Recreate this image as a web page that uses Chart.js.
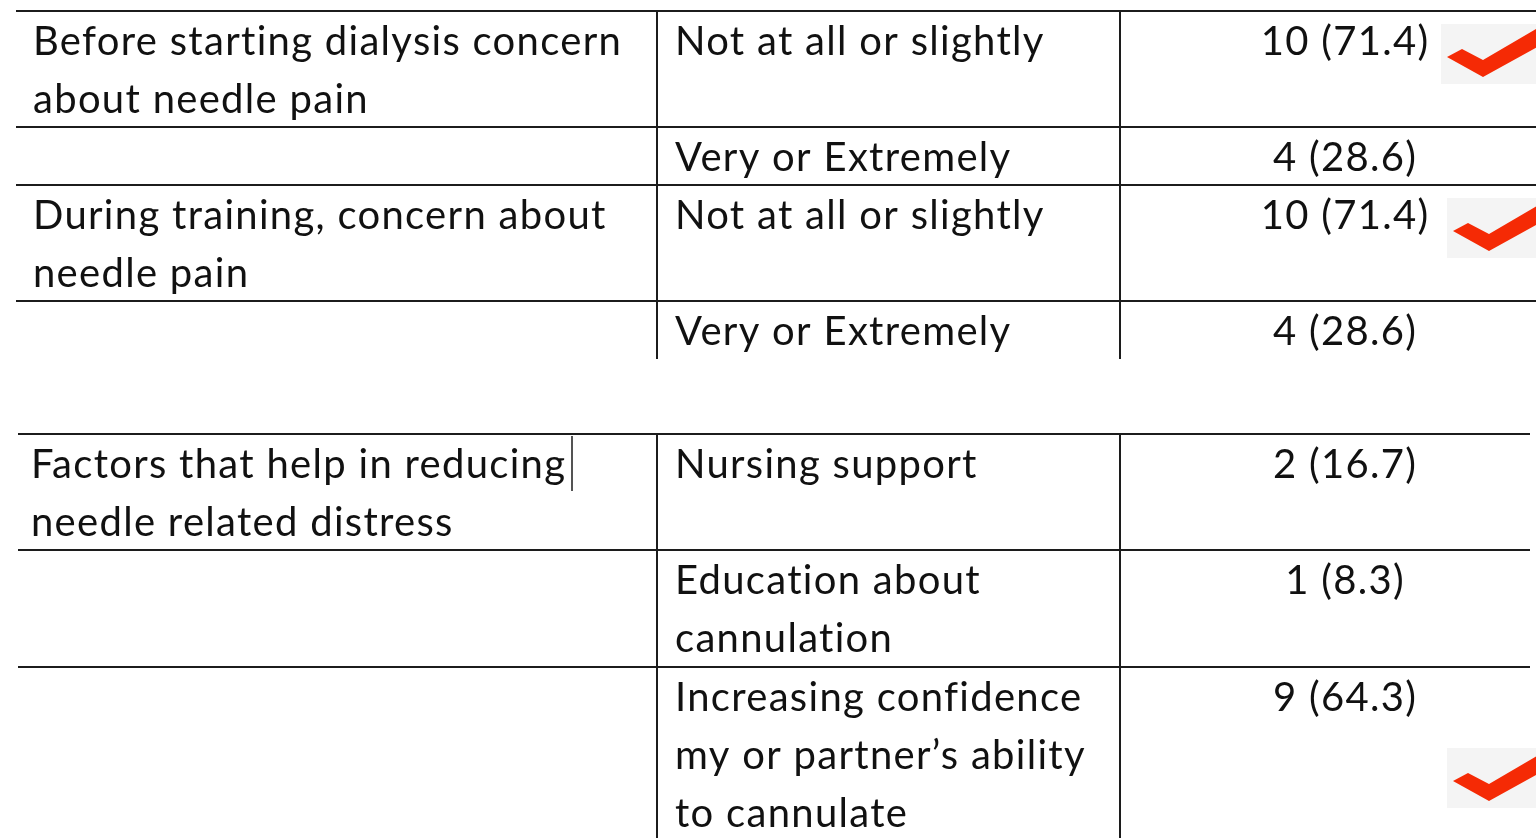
<!DOCTYPE html>
<html>
<head>
<meta charset="utf-8">
<script src="https://cdn.jsdelivr.net/npm/chart.js@4/dist/chart.umd.min.js"></script>
<style>
  html, body { margin: 0; padding: 0; background: #fff; overflow: hidden; }
  canvas { display: block; }
</style>
</head>
<body>
<canvas id="needleTable" width="1536" height="838"></canvas>
<script>
// table content
const questions = [
  'Before starting dialysis concern\nabout needle pain',
  '',
  'During training, concern about\nneedle pain',
  '',
  'Factors that help in reducing\nneedle related distress',
  '',
  ''
];
const responses = [
  'Not at all or slightly',
  'Very or Extremely',
  'Not at all or slightly',
  'Very or Extremely',
  'Nursing support',
  'Education about\ncannulation',
  'Increasing confidence\nmy or partner\u2019s ability\nto cannulate'
];
const counts = [10, 4, 10, 4, 2, 1, 9];
const percents = [71.4, 28.6, 71.4, 28.6, 16.7, 8.3, 64.3];
const ticked = [true, false, true, false, false, false, true];

// layout (chart units == pixels)
const rowTops = [11, 127, 185, 301, 434, 550, 667];
const tableOf = [0, 0, 0, 0, 1, 1, 1];
const tables = [
  { top: 11, bottom: 359, left: 16, right: 1536, textX: 33 },
  { top: 434, bottom: 838, left: 18, right: 1530, textX: 31 }
];
const colLines = [657, 1120];
const respX = 675;
const valueX = 1345;
const lineGap = 58;
const firstBase = 44;

const gridColor = '#1c1c1c';
const datasets = [];
rowTops.forEach((y, i) => {
  const t = tables[tableOf[i]];
  datasets.push({ data: [{ x: t.left, y: y }, { x: t.right, y: y }] });
});
tables.forEach(t => {
  colLines.forEach(x => {
    datasets.push({ data: [{ x: x, y: t.top }, { x: x, y: t.bottom }] });
  });
});
// text cursor left in the first cell of the second table
datasets.push({ data: [{ x: 572, y: 436 }, { x: 572, y: 491 }], borderWidth: 1.5 });
datasets.forEach(d => {
  d.showLine = true;
  d.pointRadius = 0;
  d.borderColor = gridColor;
  if (!d.borderWidth) d.borderWidth = 2;
});

const tableText = {
  id: 'tableText',
  afterDatasetsDraw(chart) {
    const ctx = chart.ctx;
    const xs = chart.scales.x, ys = chart.scales.y;
    ctx.save();
    ctx.font = '40px Lato, "Open Sans", sans-serif';
    ctx.letterSpacing = '1.3px';
    ctx.fillStyle = '#111';
    ctx.textBaseline = 'alphabetic';
    rowTops.forEach((top, i) => {
      const t = tables[tableOf[i]];
      ctx.textAlign = 'left';
      questions[i].split('\n').forEach((s, k) => {
        if (s) ctx.fillText(s, xs.getPixelForValue(t.textX), ys.getPixelForValue(top + firstBase + k * lineGap));
      });
      responses[i].split('\n').forEach((s, k) => {
        ctx.fillText(s, xs.getPixelForValue(respX), ys.getPixelForValue(top + firstBase + k * lineGap));
      });
      ctx.textAlign = 'center';
      ctx.fillText(counts[i] + ' (' + percents[i].toFixed(1) + ')',
        xs.getPixelForValue(valueX), ys.getPixelForValue(top + firstBase));
    });

    // red tick marks on grey boxes
    const boxes = [[1441, 24], [1447, 215], null, null, null, null, [1447, 748]];
    ctx.letterSpacing = '0px';
    ticked.forEach((on, i) => {
      if (!on) return;
      const bx = boxes[i] ? boxes[i][0] : 1447;
      const by = boxes[i] ? boxes[i][1] : rowTops[i] + 13;
      const px = v => xs.getPixelForValue(bx + v);
      const py = v => ys.getPixelForValue(by + v);
      ctx.fillStyle = '#f4f4f4';
      ctx.fillRect(px(0), py(0), px(100) - px(0), py(60) - py(0));
      ctx.fillStyle = '#f52a05';
      ctx.beginPath();
      ctx.moveTo(px(6), py(33));
      ctx.lineTo(px(21), py(25));
      ctx.lineTo(px(42), py(36));
      ctx.lineTo(px(100), py(2));
      ctx.lineTo(px(100), py(21));
      ctx.lineTo(px(42), py(53));
      ctx.closePath();
      ctx.fill();
    });
    ctx.restore();
  }
};

new Chart(document.getElementById('needleTable'), {
  type: 'scatter',
  data: { datasets: datasets },
  options: {
    responsive: false,
    animation: false,
    layout: { padding: 0 },
    plugins: { legend: { display: false }, tooltip: { enabled: false } },
    scales: {
      x: { type: 'linear', min: 0, max: 1536, display: false },
      y: { type: 'linear', min: 0, max: 838, reverse: true, display: false }
    }
  },
  plugins: [tableText]
});
</script>
</body>
</html>
